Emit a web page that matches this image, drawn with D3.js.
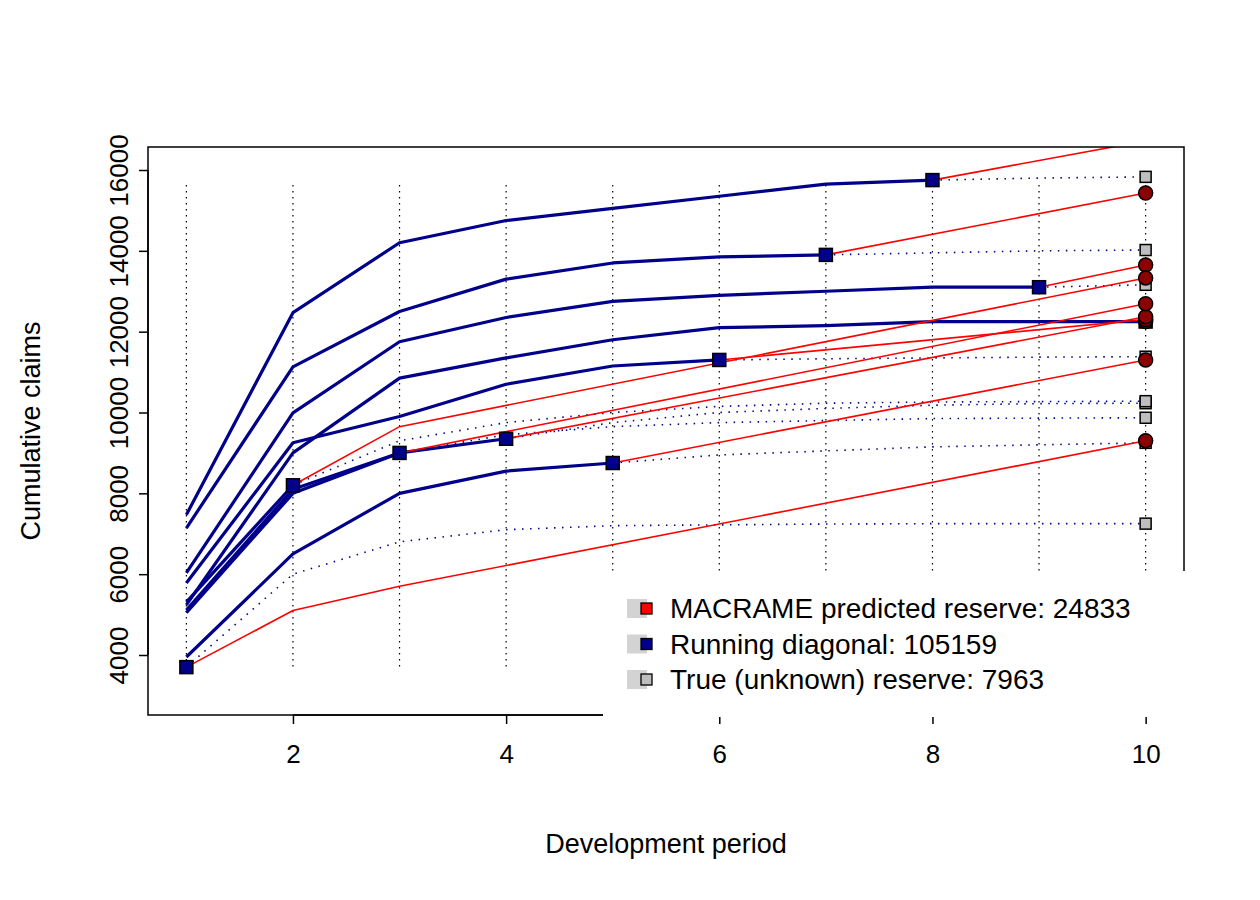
<!DOCTYPE html>
<html><head><meta charset="utf-8">
<script src="https://cdn.jsdelivr.net/npm/d3@7"></script>
<style>body{margin:0;background:#fff}text{font-family:"Liberation Sans",Arial,sans-serif}</style>
</head><body><svg id="c" width="1260" height="900"></svg>
<script>
// observed cumulative claims per accident year (dev periods 1..n)
const observed = [
  [5240, 9000, 10850, 11350, 11800, 12100, 12150, 12250, 12250, 12250],
  [6030, 9990, 11750, 12350, 12750, 12900, 13000, 13100, 13100],
  [7470, 12470, 14200, 14750, 15050, 15350, 15650, 15750],
  [7140, 11130, 12500, 13300, 13700, 13850, 13900],
  [5780, 9250, 9900, 10700, 11150, 11300],
  [3950, 6500, 8000, 8550, 8750],
  [5110, 8100, 9000, 9350],
  [5050, 8000, 9000],
  [5310, 8200],
  [3700]
];
// MACRAME predictions: [period, value] from last observed
const predicted = [
  [[10, 12250], [10, 12250]],
  [[9, 13100], [10, 13650]],
  [[8, 15750], [10, 16720]],
  [[7, 13900], [10, 15430]],
  [[6, 11300], [10, 12300]],
  [[5, 8750], [10, 11300]],
  [[4, 9350], [10, 12370]],
  [[3, 9000], [10, 12690]],
  [[2, 8200], [3, 9650], [10, 13330]],
  [[1, 3700], [2, 5100], [3, 5700], [10, 9300]]
];
// true (unknown) future cumulative claims from last observed period to 10
const trueFuture = [
  [12250],
  [13100, 13160],
  [15750, 15800, 15830],
  [13900, 13950, 14000, 14020],
  [11300, 11330, 11350, 11370, 11380],
  [8750, 8950, 9050, 9150, 9200, 9250],
  [9350, 9750, 10000, 10100, 10180, 10220, 10230],
  [9000, 9450, 9650, 9750, 9800, 9850, 9860, 9870],
  [8200, 9300, 9750, 10000, 10150, 10230, 10260, 10270, 10280],
  [3700, 6000, 6800, 7100, 7200, 7220, 7240, 7250, 7250, 7250]
];
const periods = [1,2,3,4,5,6,7,8,9,10];
const xTicks = [2,4,6,8,10];
const yTicks = [4000,6000,8000,10000,12000,14000,16000];
const legendItems = [
  {label:"MACRAME predicted reserve: 24833", fill:"#FF0000"},
  {label:"Running diagonal: 105159", fill:"#00008B"},
  {label:"True (unknown) reserve: 7963", fill:"#BEBEBE"}
];

const svg = d3.select("#c");
const L=148,R=1184,T=147,B=715;
const x = d3.scaleLinear().domain([0.64,10.36]).range([L,R]);
const y = d3.scaleLinear().domain([4000,16000]).range([655,170]);

svg.append("clipPath").attr("id","clip").append("rect").attr("x",L).attr("y",T).attr("width",R-L).attr("height",B-T);
const g = svg.append("g").attr("clip-path","url(#clip)");

g.selectAll(".vg").data(periods).join("line")
  .attr("x1",d=>x(d)).attr("x2",d=>x(d)).attr("y1",y(15630)).attr("y2",y(3680))
  .attr("stroke","#000").attr("stroke-width",1.2).attr("stroke-dasharray","1.5,4.5");

const line = d3.line().x(d=>x(d[0])).y(d=>y(d[1]));
trueFuture.forEach((arr,i)=>{
  const start = observed[i].length;
  const pts = arr.map((v,k)=>[start+k,v]);
  if(pts.length>1) g.append("path").attr("d",line(pts)).attr("fill","none")
    .attr("stroke","#00008B").attr("stroke-width",1.6).attr("stroke-dasharray","1.5,6.5");
});
observed.forEach(arr=>{
  g.append("path").attr("d",line(arr.map((v,k)=>[k+1,v]))).attr("fill","none")
   .attr("stroke","#00008B").attr("stroke-width",3.2).attr("stroke-linejoin","round");
});
predicted.forEach(arr=>{
  g.append("path").attr("d",line(arr)).attr("fill","none").attr("stroke","#FF0000").attr("stroke-width",1.6);
});
observed.forEach(arr=>{
  const n=arr.length;
  g.append("rect").attr("x",x(n)-6.5).attr("y",y(arr[n-1])-6.5).attr("width",13).attr("height",13)
   .attr("fill","#00008B").attr("stroke","#000").attr("stroke-width",1.5);
});
trueFuture.forEach((arr,i)=>{
  const v=arr[arr.length-1];
  g.append("rect").attr("x",x(10)-5.5).attr("y",y(v)-5.5).attr("width",11).attr("height",11)
   .attr("fill","#BEBEBE").attr("stroke","#000").attr("stroke-width",1.5);
});
predicted.forEach(arr=>{
  const p=arr[arr.length-1];
  if(y(p[1])-7 < T) return;
  g.append("circle").attr("cx",x(p[0])).attr("cy",y(p[1])).attr("r",7)
   .attr("fill","#8B0000").attr("stroke","#000").attr("stroke-width",1.5);
});
svg.append("rect").attr("x",L).attr("y",T).attr("width",R-L).attr("height",B-T).attr("fill","none").attr("stroke","#000").attr("stroke-width",1.5);

// axes
const xa = svg.append("g").attr("transform",`translate(0,${B})`).call(d3.axisBottom(x).tickValues(xTicks).tickSize(9).tickPadding(30).tickFormat(d3.format("d")));
const ya = svg.append("g").attr("transform",`translate(${L},0)`).call(d3.axisLeft(y).tickValues(yTicks).tickSize(9).tickFormat(d3.format("d")));
[xa,ya].forEach(a=>{a.attr("font-size",null).attr("font-family",null);
  a.selectAll("text").style("font-size","26px").attr("fill","#000");
  a.selectAll("line").attr("stroke","#000").attr("stroke-width",1.5);
  a.select(".domain").remove();});
xa.selectAll("text").attr("dy","0.35em");
svg.append("line").attr("x1",x(2)).attr("x2",x(10)).attr("y1",B).attr("y2",B).attr("stroke","#000").attr("stroke-width",1.5);
svg.append("line").attr("y1",y(4000)).attr("y2",y(16000)).attr("x1",L).attr("x2",L).attr("stroke","#000").attr("stroke-width",1.5);
ya.selectAll("text").attr("text-anchor","middle").attr("dy","0")
  .attr("transform","translate(-20,0) rotate(-90)").attr("x",0).attr("y",0);

svg.append("text").attr("x",666).attr("y",853).attr("text-anchor","middle").style("font-size","27px").text("Development period");
svg.append("text").attr("transform","translate(40,431) rotate(-90)").attr("text-anchor","middle").style("font-size","27px").text("Cumulative claims");

// legend
svg.append("rect").attr("x",603).attr("y",571).attr("width",582).attr("height",146).attr("fill","#fff");
const lg = svg.selectAll(".lg").data(legendItems).join("g").attr("transform",(d,i)=>`translate(0,${608+i*35.5})`);
lg.append("rect").attr("x",627).attr("y",-9).attr("width",20).attr("height",19).attr("fill","#D3D3D3");
lg.append("rect").attr("x",641).attr("y",-5).attr("width",11).attr("height",11).attr("fill",d=>d.fill).attr("stroke","#000").attr("stroke-width",1.3);
lg.append("text").attr("x",670).attr("y",10).style("font-size","28px").text(d=>d.label);
</script></body></html>
